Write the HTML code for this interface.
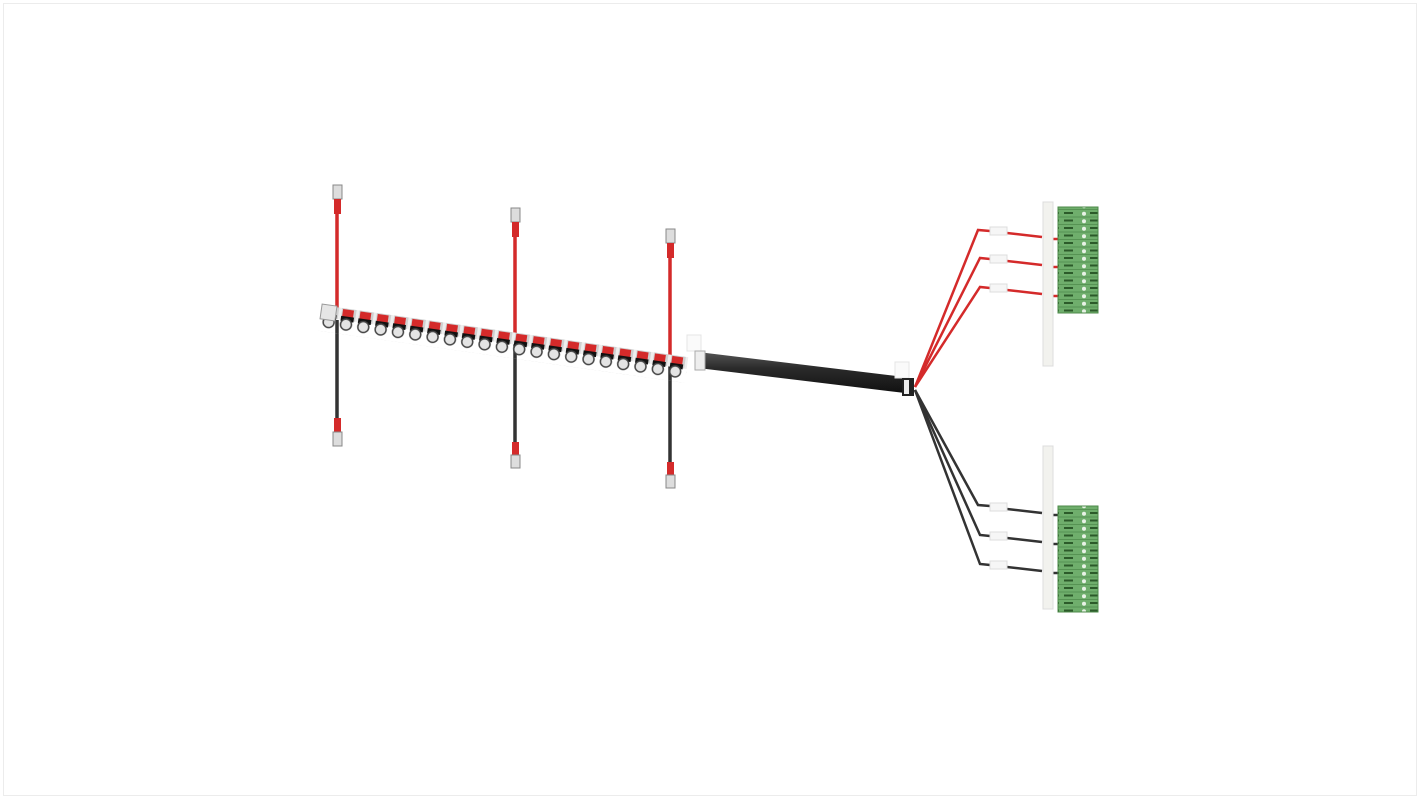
<!DOCTYPE html>
<html><head><style>
html,body{margin:0;padding:0;background:#fff;}
.f{position:absolute;left:3px;top:3px;width:1412px;height:791px;border:1px solid #ececec;}
</style></head><body>
<div class="f"></div>
<svg width="1420" height="798" style="position:absolute;left:0;top:0">
<defs>
<pattern id="seg" width="17.5" height="26" patternUnits="userSpaceOnUse">
<rect x="0" y="0" width="17.5" height="12" fill="#d0d0d0"/>
<rect x="0" y="0" width="3" height="12" fill="#eee"/>
<rect x="4" y="1" width="11" height="8" fill="#d42a2a"/>
<rect x="3" y="8" width="13" height="5" fill="#111"/>
<circle cx="9" cy="16" r="5.5" fill="#e4e4e4" stroke="#444" stroke-width="1.5"/>
</pattern>
<linearGradient id="cab" x1="0" y1="0" x2="0" y2="1">
<stop offset="0" stop-color="#555"/><stop offset="0.4" stop-color="#2a2a2a"/><stop offset="1" stop-color="#111"/>
</linearGradient>
<pattern id="term" width="40" height="7.5" patternUnits="userSpaceOnUse">
<rect width="40" height="7.5" fill="#6fae6c"/>
<circle cx="4" cy="3.7" r="2" fill="#e8f2e6"/>
<rect x="10" y="2" width="9" height="2" fill="#2c5a2a"/>
<rect x="24" y="2" width="9" height="2" fill="#2c5a2a"/>
<line x1="0" y1="7" x2="40" y2="7" stroke="#4d8a4a" stroke-width="0.8"/>
</pattern>
</defs>

<g stroke-width="3.5">
<line x1="337" y1="200" x2="337" y2="312" stroke="#d42a2a"/>
<line x1="337" y1="320" x2="337" y2="430" stroke="#333"/>
<line x1="515" y1="222" x2="515" y2="335" stroke="#d42a2a"/>
<line x1="515" y1="340" x2="515" y2="455" stroke="#333"/>
<line x1="670" y1="242" x2="670" y2="355" stroke="#d42a2a"/>
<line x1="670" y1="360" x2="670" y2="475" stroke="#333"/>
</g>
<g>
<rect x="333" y="185" width="9" height="14" fill="#ddd" stroke="#888"/><rect x="334" y="199" width="7" height="15" fill="#d42a2a"/>
<rect x="334" y="418" width="7" height="14" fill="#d42a2a"/><rect x="333" y="432" width="9" height="14" fill="#ddd" stroke="#888"/>
<rect x="511" y="208" width="9" height="14" fill="#ddd" stroke="#888"/><rect x="512" y="222" width="7" height="15" fill="#d42a2a"/>
<rect x="512" y="442" width="7" height="13" fill="#d42a2a"/><rect x="511" y="455" width="9" height="13" fill="#ddd" stroke="#888"/>
<rect x="666" y="229" width="9" height="14" fill="#ddd" stroke="#888"/><rect x="667" y="243" width="7" height="15" fill="#d42a2a"/>
<rect x="667" y="462" width="7" height="13" fill="#d42a2a"/><rect x="666" y="475" width="9" height="13" fill="#ddd" stroke="#888"/>
</g>

<g transform="translate(322,305) rotate(8.1)">
<rect x="0" y="0" width="370" height="26" fill="url(#seg)"/>
<rect x="0" y="-1" width="15" height="15" fill="#e6e6e6" stroke="#999"/>
</g>
<rect x="687" y="335" width="14" height="16" fill="#fafafa" stroke="#e5e5e5"/>

<polygon points="698,352 905,377 905,393 698,368" fill="url(#cab)"/>
<rect x="695" y="351" width="10" height="19" fill="#eee" stroke="#aaa"/>
<rect x="895" y="362" width="14" height="16" fill="#fafafa" stroke="#e5e5e5"/>
<rect x="902" y="378" width="12" height="18" fill="#222"/>
<rect x="904" y="380" width="5" height="14" fill="#eee"/>

<g fill="none" stroke-width="2.5">
<polyline points="915,387 978,230 990,231" stroke="#d42a2a"/>
<polyline points="915,387 980,258 990,259" stroke="#d42a2a"/>
<polyline points="915,387 980,287 990,288" stroke="#d42a2a"/>
<polyline points="915,390 978,505 990,506" stroke="#333"/>
<polyline points="915,390 980,535 990,536" stroke="#333"/>
<polyline points="915,390 980,564 990,565" stroke="#333"/>
<line x1="1007" y1="233" x2="1042" y2="237" stroke="#d42a2a"/>
<line x1="1007" y1="261" x2="1042" y2="265" stroke="#d42a2a"/>
<line x1="1007" y1="290" x2="1042" y2="294" stroke="#d42a2a"/>
<line x1="1007" y1="509" x2="1042" y2="513" stroke="#333"/>
<line x1="1007" y1="538" x2="1042" y2="542" stroke="#333"/>
<line x1="1007" y1="567" x2="1042" y2="571" stroke="#333"/>
<line x1="1053" y1="239" x2="1060" y2="239" stroke="#d42a2a"/>
<line x1="1053" y1="267" x2="1060" y2="267" stroke="#d42a2a"/>
<line x1="1053" y1="296" x2="1060" y2="296" stroke="#d42a2a"/>
<line x1="1053" y1="515" x2="1060" y2="515" stroke="#333"/>
<line x1="1053" y1="544" x2="1060" y2="544" stroke="#333"/>
<line x1="1053" y1="573" x2="1060" y2="573" stroke="#333"/>
</g>
<g fill="#f6f6f6" stroke="#ddd">
<rect x="990" y="227" width="17" height="8"/><rect x="990" y="255" width="17" height="8"/><rect x="990" y="284" width="17" height="8"/>
<rect x="990" y="503" width="17" height="8"/><rect x="990" y="532" width="17" height="8"/><rect x="990" y="561" width="17" height="8"/>
</g>

<rect x="1043" y="202" width="10" height="164" fill="#f2f2ee" stroke="#ddd"/>
<rect x="1043" y="446" width="10" height="163" fill="#f2f2ee" stroke="#ddd"/>
<rect x="1058" y="207" width="40" height="106" fill="url(#term)" stroke="#4d8a4a"/>
<rect x="1058" y="506" width="40" height="106" fill="url(#term)" stroke="#4d8a4a"/>
</svg>
</body></html>
